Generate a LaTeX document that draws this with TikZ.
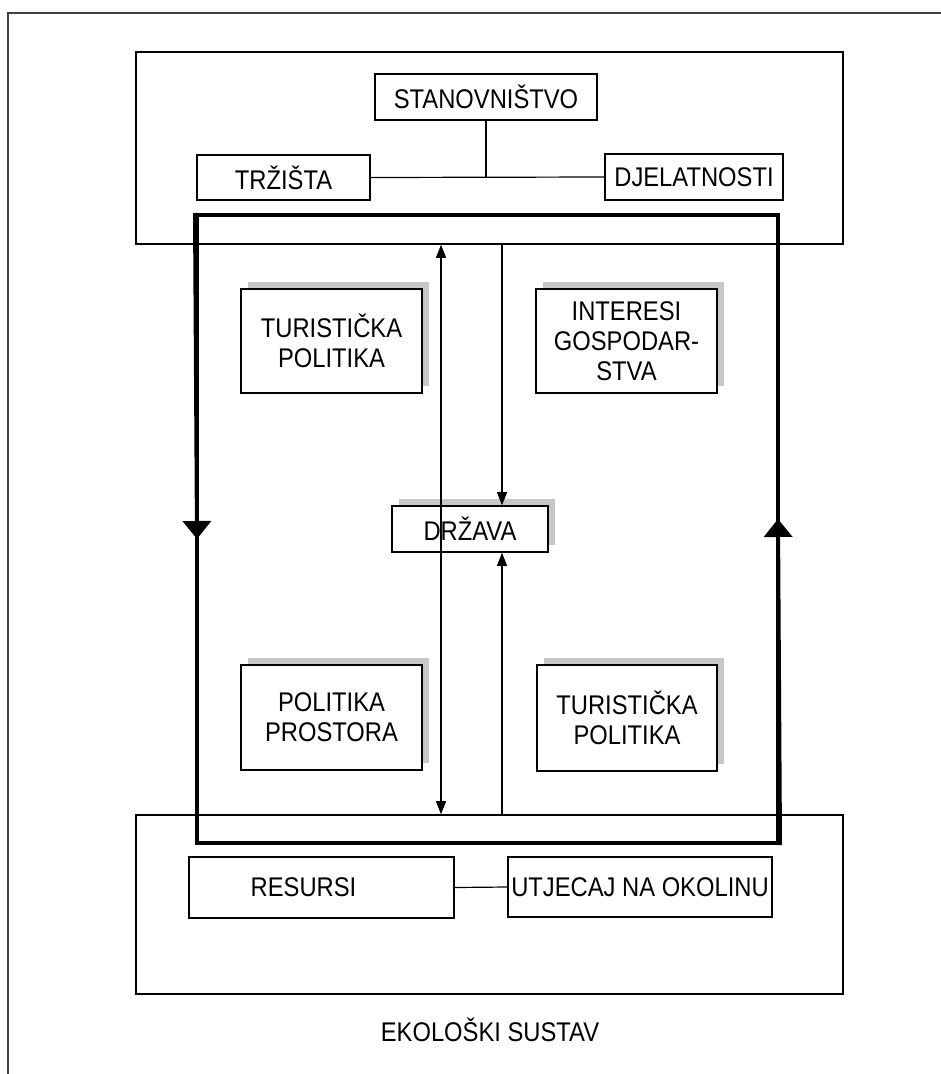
\documentclass[tikz,border=0pt]{standalone}
\usepackage{fontspec}
\setmainfont{Liberation Sans}[FakeStretch=0.88]
\usetikzlibrary{arrows.meta,shadows,calc}
\begin{document}
\begin{tikzpicture}[x=1pt,y=-1pt,
  box/.style={draw, line width=1.6pt, fill=white, inner sep=0pt, font=\fontsize{27}{30}\selectfont, align=center},
  shadowbox/.style={box, copy shadow={shadow xshift=7pt, shadow yshift=7pt, draw=none, fill=black!22}},
  region/.style={draw, line width=1.6pt},
  link/.style={line width=1.2pt},
  tiparrow/.style={line width=1.2pt, -{Triangle[length=13pt,width=10pt]}},
  bigtip/.style={line width=4pt, -{Triangle[length=18pt,width=28pt]}}
]
\useasboundingbox (0,0) rectangle (941,1074);
% outer frame (cut by the image edges)
\coordinate (otl) at (8,13);
\coordinate (otr) at (941,13);
\coordinate (obl) at (8,1074);
\draw[line width=1.6pt, black!75] (obl) -- (otl) -- (otr);

% top region
\node[region, minimum width=707pt, minimum height=192pt] (tb) at (489.5,148) {};
% bottom region
\node[region, minimum width=707pt, minimum height=179pt] (bb) at (489.5,904.5) {};

% thick loop frame
\node[draw, line width=4pt, minimum width=581pt, minimum height=628pt, inner sep=0pt] (loop) at (487.5,529) {};
\coordinate (la) at (197,539);
\coordinate (ra) at (778,519);
\draw[bigtip] (loop.north west) -- (la);
\draw[bigtip] (loop.south east) -- (ra);

% top nodes
\node[box, minimum width=222pt, minimum height=46pt] (stan) at (486,97) {STANOVNIŠTVO};
\node[box, minimum width=173pt, minimum height=45pt] (trz) at (283.5,177.5) {TRŽIŠTA};
\node[box, minimum width=178pt, minimum height=46pt] (dje) at (694,177) {DJELATNOSTI};
\coordinate (j) at (stan.south |- trz.east);
\draw[link] (trz.east) -- (dje.west);
\draw[link] (stan.south) -- (j);

% inner policy boxes
\node[shadowbox, minimum width=181pt, minimum height=104pt] (tp1) at (331.5,341) {TURISTIČKA\\POLITIKA};
\node[shadowbox, minimum width=181pt, minimum height=104pt] (ig) at (626.5,341) {INTERESI\\GOSPODAR-\\STVA};
\node[shadowbox, minimum width=181pt, minimum height=105pt] (pp) at (331.5,717.5) {POLITIKA\\PROSTORA};
\node[shadowbox, minimum width=180pt, minimum height=106pt] (tp2) at (627,718) {TURISTIČKA\\POLITIKA};

% state
\node[shadowbox, minimum width=156pt, minimum height=46pt] (drz) at (470,529) {DRŽAVA};

% vertical connectors
\draw[line width=1.2pt, {Triangle[length=13pt,width=10pt]}-{Triangle[length=13pt,width=10pt]}] (441,0 |- tb.south) -- (441,0 |- bb.north);
\draw[tiparrow] (502,0 |- tb.south) -- (502,0 |- drz.north);
\draw[tiparrow] (502,0 |- bb.north) -- (502,0 |- drz.south);

% bottom nodes
\node[box, minimum width=265pt, minimum height=61pt] (res) at (321.5,887.5) {\hspace*{-36pt}RESURSI};
\node[box, minimum width=264pt, minimum height=60pt] (utj) at (640,887) {UTJECAJ NA OKOLINU};
\draw[link] (res.east) -- (utj.west);

\node[font=\fontsize{27}{30}\selectfont] (eko) at (490,1030) {EKOLOŠKI SUSTAV};
\end{tikzpicture}
\end{document}
